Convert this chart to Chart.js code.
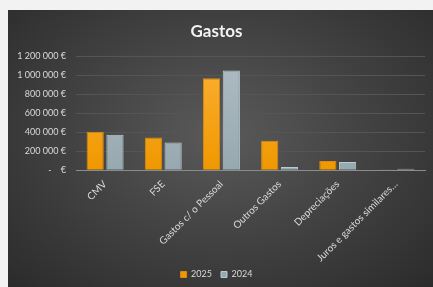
<!DOCTYPE html>
<html>
<head>
<meta charset="utf-8">
<script src="https://cdn.jsdelivr.net/npm/chart.js@4"></script>
<style>
  html, body { margin: 0; padding: 0; background: #f2f2f2; }
  #panel {
    position: absolute; left: 8px; top: 10px; width: 425px; height: 277px;
    background: radial-gradient(ellipse at 50% 45%, #5a5a5a 0%, #444 45%, #2b2b2b 100%);
  }
  #chart { display: block; }
</style>
</head>
<body>
<div id="panel"><canvas id="chart" width="425" height="277"></canvas></div>
<script>
var categories = ['CMV', 'FSE', 'Gastos c/ o Pessoal', 'Outros Gastos', 'Depreciações', 'Juros e gastos similares…'];
var gastos2025 = [406000, 344000, 970000, 310000, 97000, 2000];
var gastos2024 = [375000, 292000, 1050000, 35000, 86000, 15000];
var yTicks = [0, 200000, 400000, 600000, 800000, 1000000, 1200000];

var fmtEuro = function(v){
  if(v === 0){ return '-    €'; }
  return String(v).replace(/\B(?=(\d{3})+(?!\d))/g, ' ') + ' €';
};

var grad = function(ctx, top, bottom){
  var chart = ctx.chart;
  var area = chart.chartArea;
  if(!area){ return bottom; }
  var g = chart.ctx.createLinearGradient(0, area.top, 0, area.bottom);
  g.addColorStop(0, top);
  g.addColorStop(1, bottom);
  return g;
};

// legend keeps wide spacing between items but takes less height
var tightLegend = {
  id: 'tightLegend',
  beforeInit: function(chart){
    var lg = chart.legend;
    var fit = lg.fit;
    lg.fit = function(){
      fit.call(this);
      this.height -= 5;
    };
  },
  afterLayout: function(chart){
    chart.legend.top -= 3;
    chart.legend.bottom -= 3;
  }
};

var labelColor = '#d9d9d9';
var font = 'Lato, "DejaVu Sans", sans-serif';

new Chart(document.getElementById('chart').getContext('2d'), {
  type: 'bar',
  data: {
    labels: categories,
    datasets: [
      {
        label: '2025',
        data: gastos2025,
        backgroundColor: function(ctx){ return grad(ctx, '#fbb035', '#ef9800'); },
        borderColor: '#d98a10',
        borderWidth: 1,
        categoryPercentage: 0.68,
        barPercentage: 0.87
      },
      {
        label: '2024',
        data: gastos2024,
        backgroundColor: function(ctx){ return grad(ctx, '#aebcc2', '#97a9b0'); },
        borderColor: '#bccacf',
        borderWidth: 1,
        categoryPercentage: 0.68,
        barPercentage: 0.87
      }
    ]
  },
  plugins: [tightLegend],
  options: {
    responsive: false,
    animation: false,
    layout: { padding: { left: 0, right: 8, top: 0, bottom: 0 } },
    plugins: {
      title: {
        display: true,
        text: 'Gastos',
        color: '#f2f2f2',
        font: { family: font, size: 17, weight: 'bold' },
        padding: { top: 11, bottom: 15 }
      },
      legend: {
        position: 'bottom',
        labels: {
          color: labelColor,
          boxWidth: 6,
          boxHeight: 6,
          padding: 9,
          font: { family: font, size: 9 }
        }
      },
      tooltip: { enabled: false }
    },
    scales: {
      x: {
        grid: { display: false },
        border: { color: '#8c8c8c', width: 1 },
        ticks: {
          color: labelColor,
          font: { family: font, size: 10 },
          minRotation: 45,
          maxRotation: 45,
          padding: 0
        }
      },
      y: {
        min: 0,
        max: 1200000,
        afterBuildTicks: function(axis){
          axis.ticks = yTicks.map(function(v){ return { value: v }; });
        },
        afterFit: function(axis){ axis.width = 68; },
        grid: { color: '#555555', lineWidth: 1, drawTicks: false },
        border: { display: false },
        ticks: {
          color: labelColor,
          font: { family: font, size: 9 },
          padding: 10,
          callback: function(v){ return fmtEuro(v); }
        }
      }
    }
  }
});
</script>
</body>
</html>
